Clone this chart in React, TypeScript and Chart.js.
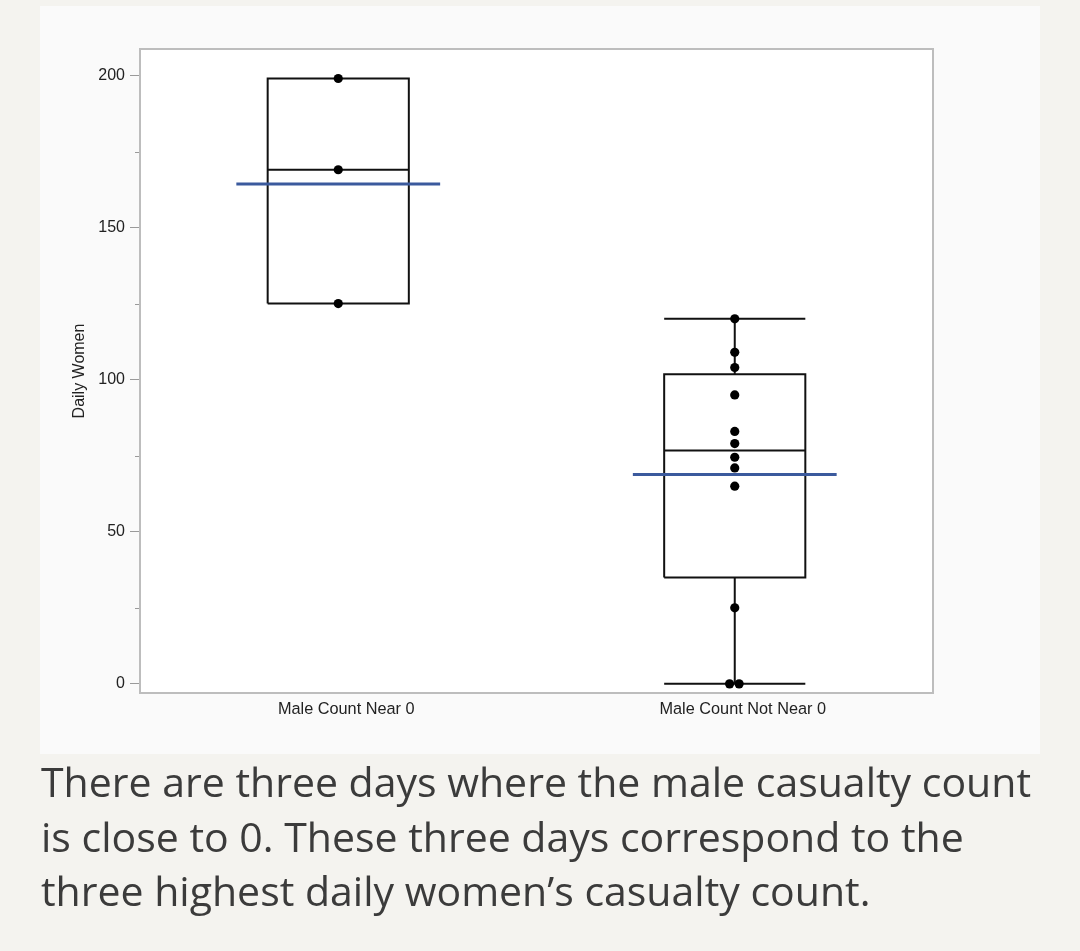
import React, { useEffect, useRef } from "react";
import { Chart, registerables } from "chart.js";

Chart.register(...registerables);

// ---- data ----
const categories = ["Male Count Near 0", "Male Count Not Near 0"];
const nearZeroValues = [199, 169, 125];
const notNearZeroValues = [120, 109, 104, 95, 83, 79, 74.5, 71, 65, 25, 0, 0];
const yTicks = [0, 50, 100, 150, 200];
const yMinorTicks = [25, 75, 125, 175];
const yAxisTitle = "Daily Women";
const captionLines = [
  "There are three days where the male casualty count",
  "is close to 0. These three days correspond to the",
  "three highest daily women\u2019s casualty count.",
];

// ---- layout / style constants ----
const nearZeroJitter = [0, 0, 0];
const notNearZeroJitter = [0, 0, 0, 0, 0, 0, 0, 0, 0, 0, -0.013, 0.011];
const BOX_HALF = 0.178;
const MEAN_HALF = 0.257;

function quantile(sorted: number[], p: number) {
  const n = sorted.length;
  const pos = p * (n + 1);
  if (pos <= 1) return sorted[0];
  if (pos >= n) return sorted[n - 1];
  const lo = Math.floor(pos);
  const frac = pos - lo;
  return sorted[lo - 1] + frac * (sorted[lo] - sorted[lo - 1]);
}

function stats(values: number[]) {
  const s = [...values].sort((a, b) => a - b);
  const q1 = quantile(s, 0.25);
  const q3 = quantile(s, 0.75);
  const med = quantile(s, 0.5);
  const iqr = q3 - q1;
  const lo = s.filter((v) => v >= q1 - 1.5 * iqr)[0];
  const hiArr = s.filter((v) => v <= q3 + 1.5 * iqr);
  const hi = hiArr[hiArr.length - 1];
  const mean = values.reduce((a, b) => a + b, 0) / values.length;
  return { q1, q3, med, lo, hi, mean };
}

export default function App() {
  const ref = useRef<HTMLCanvasElement | null>(null);

  useEffect(() => {
    document.body.style.margin = "0";
    Chart.defaults.font.family = "'Liberation Sans', Arial, Helvetica, sans-serif";
    const groups = [nearZeroValues, notNearZeroValues];
    const jitters = [nearZeroJitter, notNearZeroJitter];

    const boxPts: any[] = [];
    const meanPts: any[] = [];
    const dots: any[] = [];
    groups.forEach((vals, i) => {
      const st = stats(vals);
      const l = i - BOX_HALF;
      const r = i + BOX_HALF;
      const brk = { x: i, y: null };
      boxPts.push(
        { x: l, y: st.q1 }, { x: r, y: st.q1 }, { x: r, y: st.q3 }, { x: l, y: st.q3 }, { x: l, y: st.q1 }, brk,
        { x: l, y: st.med }, { x: r, y: st.med }, brk,
        { x: i, y: st.q3 }, { x: i, y: st.hi }, brk,
        { x: i, y: st.q1 }, { x: i, y: st.lo }, brk,
        { x: l, y: st.hi }, { x: r, y: st.hi }, brk,
        { x: l, y: st.lo }, { x: r, y: st.lo }, brk
      );
      meanPts.push({ x: i - MEAN_HALF, y: st.mean }, { x: i + MEAN_HALF, y: st.mean }, brk);
      vals.forEach((v, k) => dots.push({ x: i + jitters[i][k], y: v }));
    });

    const chartBg = {
      id: "chartBg",
      beforeDraw(chart: any) {
        const { ctx, chartArea: a } = chart;
        ctx.save();
        ctx.fillStyle = "#ffffff";
        ctx.fillRect(a.left, a.top, a.right - a.left, a.bottom - a.top);
        ctx.restore();
      },
      afterDraw(chart: any) {
        const { ctx, chartArea: a } = chart;
        const ys = chart.scales.y;
        ctx.save();
        ctx.strokeStyle = "#9a9a9a";
        ctx.lineWidth = 1;
        yMinorTicks.forEach((v) => {
          const py = Math.round(ys.getPixelForValue(v)) + 0.5;
          ctx.beginPath();
          ctx.moveTo(a.left - 5, py);
          ctx.lineTo(a.left, py);
          ctx.stroke();
        });
        ctx.strokeStyle = "#bdbdbd";
        ctx.lineWidth = 2;
        ctx.strokeRect(a.left, a.top, a.right - a.left, a.bottom - a.top);
        ctx.restore();
      },
    };

    const chart = new Chart(ref.current as HTMLCanvasElement, {
      type: "scatter",
      data: {
        datasets: [
          {
            data: dots,
            pointRadius: 4.6,
            pointBackgroundColor: "#000",
            pointBorderWidth: 0,
            showLine: false,
          } as any,
          {
            data: meanPts,
            showLine: true,
            spanGaps: false,
            pointRadius: 0,
            borderColor: "#3b5a9d",
            borderWidth: 3,
          } as any,
          {
            data: boxPts,
            showLine: true,
            spanGaps: false,
            pointRadius: 0,
            borderColor: "#111",
            borderWidth: 2,
          } as any,
        ],
      },
      options: {
        animation: false,
        responsive: false,
        maintainAspectRatio: false,
        layout: { padding: { left: 30, top: 43, right: 107, bottom: 0 } },
        plugins: { legend: { display: false }, tooltip: { enabled: false } },
        scales: {
          x: {
            type: "linear",
            min: -0.5,
            max: 1.5,
            afterBuildTicks: (s: any) => {
              s.ticks = categories.map((_, i) => ({ value: i }));
            },
            afterFit: (s: any) => {
              s.height = 61;
            },
            ticks: {
              callback: (v: any) => categories[v] ?? "",
              padding: -1,
              labelOffset: 8,
              color: "#222",
              font: { size: 16.3 },
              maxRotation: 0,
              autoSkip: false,
            },
            grid: { display: false },
            border: { display: false },
          },
          y: {
            type: "linear",
            min: -3,
            max: 208.7,
            afterBuildTicks: (s: any) => {
              s.ticks = yTicks.map((v) => ({ value: v }));
            },
            afterFit: (s: any) => {
              s.width = 70;
            },
            ticks: { padding: 5, color: "#222", font: { size: 16 } },
            grid: { drawOnChartArea: false, tickLength: 10, color: "#9a9a9a", lineWidth: 1 },
            border: { display: false },
            title: { display: true, text: yAxisTitle, color: "#222", font: { size: 16 }, padding: 0 },
          },
        },
      } as any,
      plugins: [chartBg],
    });
    return () => chart.destroy();
  }, []);

  return (
    <div style={{ position: "relative", width: 1080, height: 951, background: "#f4f3ef", overflow: "hidden" }}>
      <div style={{ position: "absolute", left: 40, top: 6, width: 1000, height: 748, background: "#fafafa" }}>
        <canvas ref={ref} width={1000} height={748} style={{ display: "block", width: 1000, height: 748 }} />
      </div>
      <div
        style={{
          position: "absolute",
          left: 41,
          top: 754,
          fontFamily: "'Open Sans', sans-serif",
          fontSize: 41,
          lineHeight: "54.5px",
          color: "#3b3b3b",
          whiteSpace: "nowrap",
        }}
      >
        {captionLines.map((t, i) => (
          <div key={i}>{t}</div>
        ))}
      </div>
    </div>
  );
}
